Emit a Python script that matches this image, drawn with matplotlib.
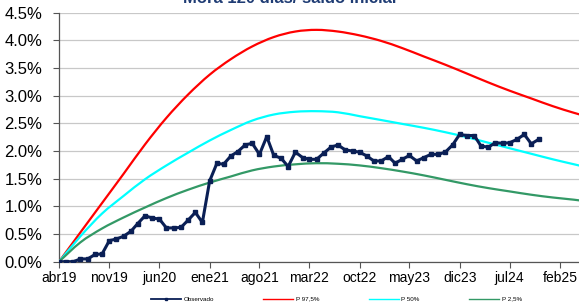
import pandas as pd
import matplotlib
matplotlib.use('Agg')
import matplotlib.pyplot as plt
import matplotlib.dates as mdates
from matplotlib.path import Path
from matplotlib.patches import PathPatch
from matplotlib.lines import Line2D
from matplotlib.ticker import FuncFormatter

plt.rcParams['font.family'] = ['Liberation Sans', 'DejaVu Sans']

# data (% values)
obs_dates = pd.date_range('2019-04-01', periods=68, freq='MS')
observado = [0.00, 0.00, 0.00, 0.05, 0.05, 0.13, 0.14, 0.38, 0.41, 0.46,
             0.55, 0.69, 0.83, 0.79, 0.77, 0.61, 0.61, 0.62, 0.75, 0.89,
             0.71, 1.46, 1.78, 1.76, 1.91, 1.99, 2.11, 2.14, 1.94, 2.26,
             1.92, 1.87, 1.72, 1.98, 1.88, 1.85, 1.85, 1.96, 2.07, 2.11,
             2.02, 2.00, 1.98, 1.91, 1.82, 1.82, 1.90, 1.78, 1.85, 1.92,
             1.82, 1.88, 1.94, 1.94, 1.98, 2.11, 2.30, 2.28, 2.28, 2.09,
             2.07, 2.15, 2.14, 2.15, 2.21, 2.30, 2.13, 2.21]

band_dates = pd.date_range('2019-04-01', periods=26, freq='3MS')
p975 = [0.00, 0.53, 1.06, 1.59, 2.12, 2.60, 3.02, 3.38, 3.66, 3.89,
        4.06, 4.16, 4.19, 4.16, 4.09, 3.99, 3.86, 3.71, 3.56, 3.40,
        3.24, 3.09, 2.95, 2.81, 2.69, 2.58]
p50 = [0.00, 0.46, 0.87, 1.19, 1.49, 1.74, 1.97, 2.19, 2.38, 2.55,
       2.66, 2.71, 2.72, 2.70, 2.63, 2.56, 2.49, 2.42, 2.34, 2.25,
       2.15, 2.05, 1.95, 1.85, 1.76, 1.67]
p25 = [0.00, 0.35, 0.60, 0.80, 0.98, 1.15, 1.30, 1.43, 1.54, 1.65,
       1.72, 1.76, 1.78, 1.77, 1.74, 1.69, 1.63, 1.56, 1.48, 1.40,
       1.33, 1.27, 1.21, 1.16, 1.12, 1.07]

tick_dates = pd.date_range('2019-04-01', periods=11, freq='7MS')
tick_labels = ['abr19', 'nov19', 'jun20', 'ene21', 'ago21', 'mar22',
               'oct22', 'may23', 'dic23', 'jul24', 'feb25']


# smoothed line (like excel's "smoothed line" option) through the points
def _smooth_patch(dates, vals, color, lw):
    x = list(mdates.date2num(dates))
    y = [v / 100 for v in vals]
    n = len(x)
    verts = [(x[0], y[0])]
    codes = [Path.MOVETO]
    for i in range(n - 1):
        i0 = max(i - 1, 0)
        i3 = min(i + 2, n - 1)
        c1 = (x[i] + (x[i + 1] - x[i0]) / 6, y[i] + (y[i + 1] - y[i0]) / 6)
        c2 = (x[i + 1] - (x[i3] - x[i]) / 6, y[i + 1] - (y[i3] - y[i]) / 6)
        verts += [c1, c2, (x[i + 1], y[i + 1])]
        codes += [Path.CURVE4] * 3
    return PathPatch(Path(verts, codes), fill=False, edgecolor=color, lw=lw,
                     capstyle='round', joinstyle='round', zorder=3)


def main():
    fig = plt.figure(figsize=(5.79, 3.07), dpi=100)
    ax = fig.add_axes([0.102, 0.1476, 0.898, 0.811])

    cols = {'P 97,5%': '#ff0000', 'P 50%': '#00ffff', 'P 2,5%': '#339966'}
    for lab, vals in [('P 97,5%', p975), ('P 50%', p50), ('P 2,5%', p25)]:
        ax.add_patch(_smooth_patch(band_dates, vals, cols[lab], 1.6))

    ax.plot(obs_dates, [v / 100 for v in observado], color='#0a1f55', lw=2.2,
            marker='s', ms=2.6, mfc='#0a1f55', mec='#0a1f55', zorder=4)

    ax.set_ylim(0, 0.045)
    ax.set_yticks([i * 0.005 for i in range(10)])
    ax.yaxis.set_major_formatter(FuncFormatter(lambda v, p: f'{v * 100:.1f}%'))
    ax.set_xlim(pd.Timestamp('2019-04-01'), pd.Timestamp('2025-04-22'))
    ax.set_xticks(tick_dates)
    ax.set_xticklabels(tick_labels)

    ax.grid(axis='y', color='#c8c8c8', lw=0.9)
    ax.set_axisbelow(True)
    for s in ['top', 'right']:
        ax.spines[s].set_visible(False)
    for s in ['left', 'bottom']:
        ax.spines[s].set_color('#555555')
        ax.spines[s].set_linewidth(0.9)
    ax.tick_params(axis='y', length=4, width=0.8, color='#555555',
                   labelsize=12, pad=8)
    ax.tick_params(axis='x', length=4, width=0.8, color='#555555',
                   labelsize=10, pad=3)

    fig.text(0.5, 1 - 3 / 307, 'Mora 120 días/ saldo inicial', ha='center',
             va='baseline', fontsize=12, fontweight='bold', color='#1f3c74')

    handles = [Line2D([], [], color='#0a1f55', lw=1.3, marker='s', ms=1.6,
                      markevery=[1]),
               Line2D([], [], color=cols['P 97,5%'], lw=1.0),
               Line2D([], [], color=cols['P 50%'], lw=1.0),
               Line2D([], [], color=cols['P 2,5%'], lw=1.0)]
    labels = ['Observado', 'P 97,5%', 'P 50%', 'P 2,5%']
    fig.legend(handles, labels, loc='center',
               bbox_to_anchor=(0.581, 1 - 299 / 307), ncol=4,
               frameon=False, fontsize=4.5, handlelength=4.8,
               handletextpad=0.4, columnspacing=7.9, numpoints=1)

    fig.savefig('out.png', dpi=100)


if __name__ == '__main__':
    main()
